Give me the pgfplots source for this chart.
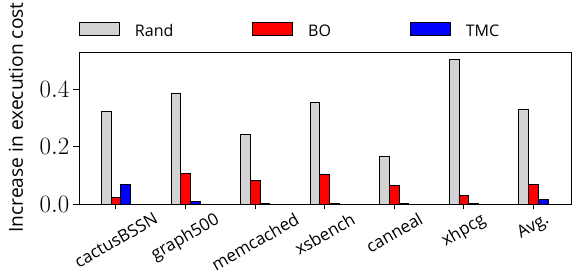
\documentclass[border=0pt]{standalone}
\usepackage{graphicx}
\usepackage{fontspec}
\setsansfont{Open Sans}
\usepackage{pgfplots}
\pgfplotsset{compat=1.18}
\definecolor{randgray}{RGB}{211,211,211}
\begin{document}
\begin{tikzpicture}
\useasboundingbox (-79pt,-71pt) rectangle (499pt,204pt);
\begin{axis}[
  at={(0pt,0pt)}, anchor=south west,
  scale only axis, width=492pt, height=151.7pt,
  ymin=0, ymax=0.528,
  xmin=-0.53, xmax=6.54,
  xtick={0,1,2,3,4,5,6},
  xticklabels={\rotatebox{30}{cactusBSSN},\rotatebox{30}{graph500},\rotatebox{30}{memcached},\rotatebox{30}{xsbench},\rotatebox{30}{canneal},\rotatebox{30}{xhpcg},\rotatebox{30}{Avg.}},
  ytick={0,0.2,0.4},
  /pgf/number format/fixed, /pgf/number format/fixed zerofill, /pgf/number format/precision=1,
  tick align=outside, xtick pos=bottom, ytick pos=left,
  major tick length=5.5pt,
  tick style={black, line width=0.8pt},
  axis line style={line width=0.8pt},
  xticklabel style={anchor=north, font=\sffamily\fontsize{17}{19}\selectfont, inner sep=0pt, yshift=-2pt},
  yticklabel style={font=\fontsize{24}{26}\selectfont, inner sep=0pt, xshift=-4pt},
  ylabel={Increase in execution cost},
  ylabel style={at={(axis description cs:-0.128,0.57)}, anchor=center, font=\sffamily\fontsize{19.2}{21}\selectfont},
  ybar, bar width=9.7pt,
  legend style={draw=none, fill=none, at={(axis description cs:0,1)}, anchor=west, yshift=22pt,
    inner sep=0pt, font=\sffamily\fontsize{16}{18}\selectfont,
    nodes={inner sep=0pt},
    /tikz/every odd column/.append style={column sep=15pt},
    /tikz/every even column/.append style={column sep=79pt}},
  legend columns=3,
  legend image code/.code={\draw[#1, line width=0.8pt] (0pt,-4.5pt) rectangle (40pt,8.5pt);},
]
\addplot[fill=randgray, draw=black, line width=0.8pt, bar shift=-9.7pt] coordinates {(0,0.323) (1,0.385) (2,0.243) (3,0.352) (4,0.166) (5,0.502) (6,0.329)};
\addlegendentry{Rand}
\addplot[fill=red, draw=black, line width=0.8pt, bar shift=0pt] coordinates {(0,0.023) (1,0.107) (2,0.083) (3,0.103) (4,0.066) (5,0.031) (6,0.069)};
\addlegendentry{BO}
\addplot[fill=blue, draw=black, line width=0.8pt, bar shift=9.7pt] coordinates {(0,0.068) (1,0.009) (2,0.0008) (3,0.0008) (4,0.0008) (5,0.0008) (6,0.015)};
\addlegendentry{TMC}
\end{axis}
\end{tikzpicture}
\end{document}
